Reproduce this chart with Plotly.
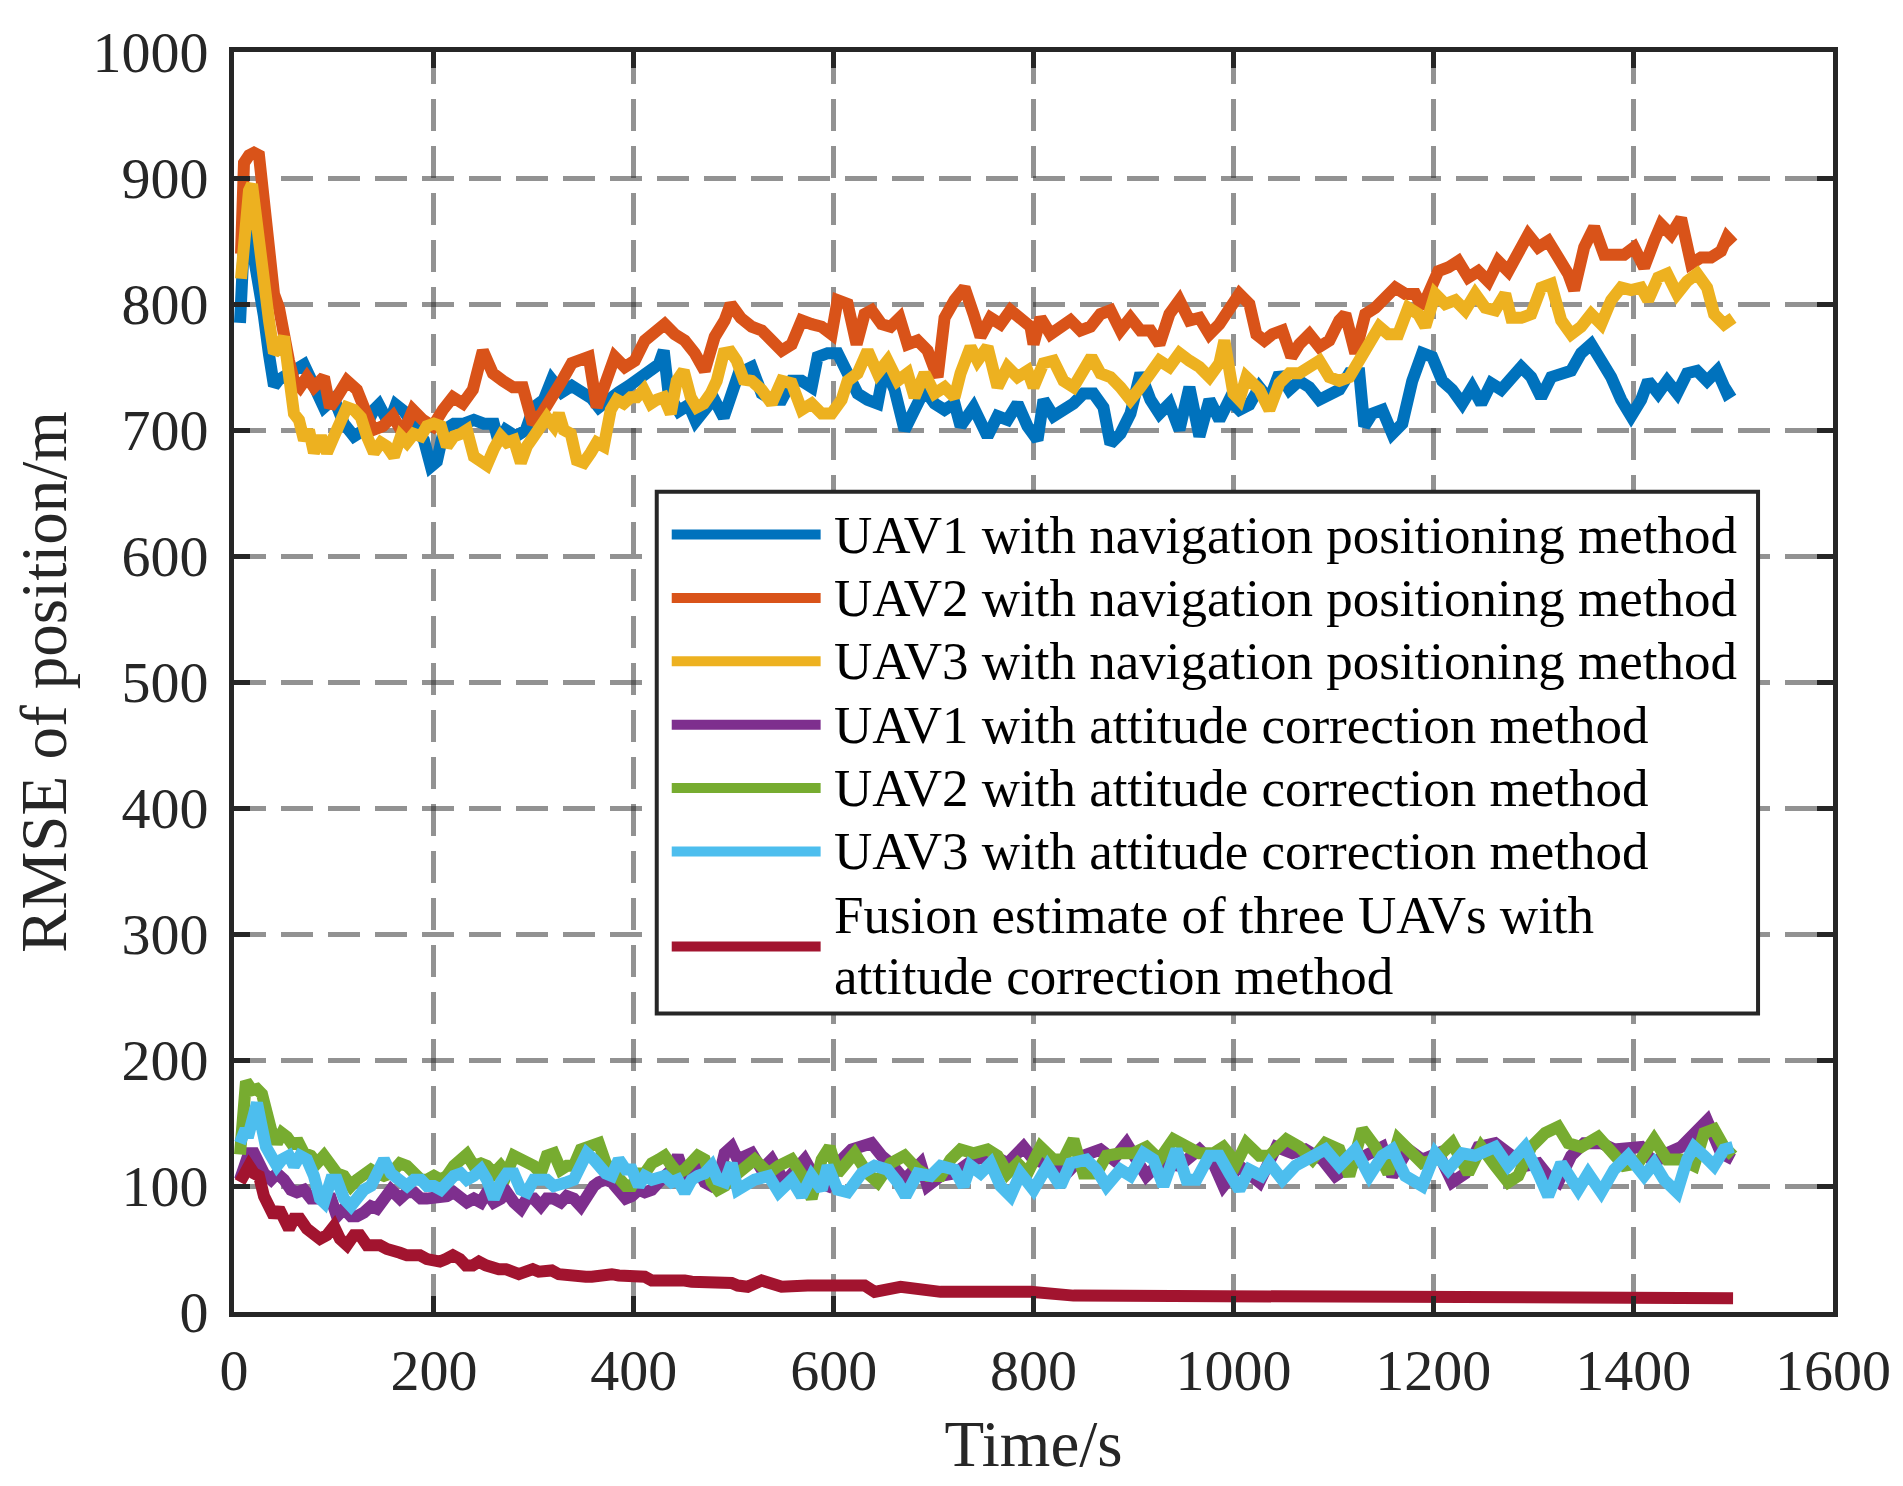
import plotly.graph_objects as go

# (time s, RMSE m)
uav1_nav = [(6, 785), (10, 850), (15, 860), (20, 840), (25, 815), (30, 790), (35, 760), (40, 735), (45, 740), (55, 745),
            (60, 748), (70, 752), (80, 735), (90, 718), (100, 725), (110, 705), (120, 695), (130, 700), (140, 716), (145, 720),
            (155, 705), (162, 720), (170, 715), (180, 705), (190, 692), (197, 671), (203, 675), (210, 700), (220, 705), (230, 705),
            (240, 708), (250, 705), (260, 705), (265, 690), (272, 700), (282, 695), (292, 700), (300, 718), (310, 724), (318, 740),
            (328, 730), (338, 735), (348, 730), (358, 725), (365, 718), (375, 725), (385, 730), (395, 735), (405, 740), (415, 745),
            (425, 752), (430, 763), (435, 728), (445, 715), (455, 720), (462, 707), (470, 715), (480, 725), (490, 710), (495, 720),
            (505, 745), (518, 750), (528, 729), (538, 724), (548, 724), (558, 739), (568, 739), (578, 734), (584, 758), (594, 761),
            (604, 761), (614, 745), (624, 729), (634, 724), (644, 721), (651, 750), (661, 732), (671, 700), (681, 716), (691, 732),
            (701, 721), (711, 716), (721, 721), (727, 703), (740, 718), (754, 695), (764, 711), (774, 708), (784, 721), (794, 703),
            (804, 692), (810, 724), (820, 711), (830, 716), (840, 721), (850, 729), (860, 729), (870, 718), (877, 689), (887, 697),
            (897, 713), (907, 745), (917, 724), (926, 713), (936, 721), (946, 700), (956, 734), (966, 695), (976, 724), (986, 708),
            (996, 724), (1006, 716), (1016, 720), (1026, 734), (1036, 724), (1046, 745), (1056, 732), (1066, 739), (1076, 734),
            (1086, 724), (1096, 729), (1106, 732), (1116, 745), (1126, 745), (1131, 703), (1139, 713), (1149, 716), (1159, 697),
            (1169, 705), (1179, 739), (1189, 761), (1199, 758), (1209, 739), (1219, 732), (1229, 721), (1239, 734), (1248, 721),
            (1258, 737), (1268, 732), (1278, 742), (1288, 750), (1298, 742), (1308, 726), (1318, 742), (1328, 745), (1338, 747),
            (1348, 761), (1358, 768), (1368, 755), (1378, 742), (1388, 724), (1398, 711), (1408, 724), (1415, 739), (1425, 729),
            (1434, 739), (1444, 729), (1454, 745), (1464, 747), (1474, 739), (1484, 747), (1494, 729), (1500, 732)]

uav2_nav = [(7, 840), (10, 912), (15, 918), (20, 920), (25, 918), (30, 876), (35, 850), (40, 808), (45, 797), (50, 771),
            (55, 755), (60, 739), (66, 734), (73, 742), (80, 734), (90, 742), (96, 718), (103, 726), (113, 739), (123, 732),
            (133, 713), (139, 700), (149, 703), (159, 711), (169, 697), (179, 716), (189, 708), (199, 703), (209, 716), (219, 726),
            (229, 721), (239, 732), (249, 763), (259, 745), (269, 739), (279, 734), (289, 734), (299, 705), (308, 713), (318, 724),
            (328, 739), (338, 753), (348, 755), (355, 758), (363, 718), (371, 739), (381, 758), (391, 750), (401, 755), (411, 771),
            (421, 779), (431, 784), (441, 776), (451, 771), (461, 761), (471, 747), (481, 774), (491, 787), (497, 800), (507, 789),
            (518, 782), (528, 779), (538, 771), (548, 763), (558, 768), (568, 787), (578, 784), (588, 782), (598, 776), (604, 803),
            (614, 800), (623, 768), (631, 792), (638, 795), (648, 784), (657, 782), (666, 789), (674, 768), (684, 771), (694, 763),
            (704, 742), (711, 789), (721, 803), (731, 813), (740, 792), (747, 774), (757, 789), (767, 784), (777, 795), (787, 787),
            (797, 782), (800, 768), (807, 789), (817, 776), (827, 782), (837, 787), (847, 779), (857, 782), (867, 792), (877, 795),
            (887, 779), (897, 789), (907, 779), (917, 779), (926, 768), (936, 792), (946, 803), (956, 787), (966, 789), (976, 776),
            (986, 784), (996, 795), (1006, 808), (1016, 800), (1023, 776), (1031, 771), (1039, 776), (1049, 779), (1058, 758),
            (1066, 768), (1076, 776), (1086, 766), (1096, 771), (1106, 787), (1112, 792), (1122, 761), (1132, 792), (1142, 797),
            (1152, 805), (1162, 813), (1172, 808), (1182, 808), (1189, 797), (1197, 813), (1205, 826), (1215, 829), (1225, 834),
            (1235, 821), (1245, 826), (1255, 818), (1265, 834), (1275, 826), (1285, 839), (1295, 855), (1305, 845), (1315, 850),
            (1325, 837), (1335, 824), (1341, 811), (1351, 845), (1361, 861), (1371, 839), (1381, 839), (1391, 839), (1401, 845),
            (1411, 829), (1421, 850), (1428, 863), (1438, 855), (1448, 868), (1458, 832), (1468, 837), (1478, 837), (1488, 842),
            (1494, 853), (1500, 848)]

uav3_nav = [(7, 820), (12, 870), (15, 890), (18, 895), (22, 866), (27, 845), (30, 818), (35, 787), (40, 761), (45, 765),
            (50, 774), (55, 739), (60, 713), (65, 708), (70, 692), (75, 700), (80, 682), (87, 695), (93, 682), (100, 695),
            (107, 708), (113, 718), (120, 716), (127, 710), (133, 695), (140, 682), (147, 690), (153, 687), (160, 679), (167, 695),
            (173, 690), (180, 697), (187, 695), (193, 703), (200, 705), (207, 703), (213, 687), (220, 695), (227, 697), (233, 700),
            (240, 679), (247, 674), (253, 672), (260, 685), (267, 695), (273, 690), (280, 692), (287, 674), (293, 687), (300, 695),
            (307, 705), (313, 710), (320, 703), (325, 713), (330, 700), (337, 697), (343, 676), (350, 674), (357, 682), (363, 690),
            (370, 687), (377, 716), (383, 724), (390, 721), (397, 726), (403, 726), (410, 732), (417, 721), (423, 724), (430, 726),
            (437, 713), (443, 739), (450, 747), (457, 726), (463, 718), (470, 721), (477, 729), (483, 739), (490, 761), (497, 762),
            (503, 755), (510, 740), (518, 739), (528, 732), (538, 721), (548, 739), (558, 737), (568, 716), (578, 721), (588, 713),
            (598, 713), (608, 724), (614, 739), (624, 745), (634, 763), (644, 745), (654, 755), (664, 739), (674, 745), (681, 726),
            (691, 745), (701, 729), (711, 734), (721, 726), (727, 745), (737, 766), (744, 755), (754, 766), (764, 734), (774, 750),
            (784, 742), (794, 747), (800, 734), (810, 753), (820, 755), (830, 739), (840, 734), (850, 747), (858, 758), (867, 745),
            (877, 742), (887, 734), (897, 724), (907, 734), (917, 745), (926, 755), (936, 750), (946, 761), (956, 755), (966, 750),
            (976, 742), (986, 753), (991, 771), (1000, 729), (1006, 724), (1013, 742), (1026, 732), (1036, 716), (1046, 737),
            (1056, 745), (1066, 745), (1076, 750), (1086, 755), (1096, 742), (1106, 739), (1116, 742), (1126, 755), (1136, 766),
            (1146, 782), (1155, 776), (1165, 776), (1175, 797), (1185, 792), (1192, 782), (1202, 808), (1212, 800), (1222, 803),
            (1232, 795), (1242, 808), (1252, 797), (1262, 795), (1272, 808), (1278, 789), (1288, 789), (1298, 792), (1308, 813),
            (1318, 816), (1328, 787), (1338, 776), (1348, 782), (1358, 792), (1368, 784), (1378, 803), (1388, 813), (1398, 811),
            (1408, 813), (1415, 803), (1425, 821), (1434, 824), (1444, 808), (1454, 818), (1464, 824), (1474, 813), (1481, 792),
            (1491, 784), (1500, 789)]

uav1_att = [(6, 105), (10, 116), (15, 126), (20, 126), (25, 116), (30, 110), (37, 105), (43, 110), (50, 105), (57, 97),
            (63, 95), (70, 97), (77, 90), (83, 90), (90, 92), (97, 90), (103, 76), (110, 82), (117, 76), (123, 76),
            (130, 79), (137, 84), (143, 82), (150, 90), (157, 97), (166, 90), (173, 95), (180, 95), (187, 90), (193, 90),
            (200, 90), (207, 92), (213, 92), (220, 95), (227, 90), (233, 87), (240, 90), (247, 87), (253, 95), (260, 87),
            (267, 90), (273, 95), (280, 87), (287, 82), (293, 90), (300, 90), (307, 84), (313, 90), (320, 90), (327, 87),
            (333, 92), (340, 90), (347, 84), (353, 92), (360, 100), (365, 103), (372, 105), (378, 103), (385, 97), (392, 90),
            (398, 92), (405, 97), (411, 95), (418, 97), (425, 103), (431, 108), (438, 113), (444, 124), (451, 108), (458, 110),
            (464, 113), (471, 103), (478, 100), (484, 103), (491, 126), (498, 131), (504, 121), (518, 126), (528, 113), (538, 121),
            (551, 103), (571, 121), (584, 103), (594, 100), (608, 121), (618, 129), (631, 131), (638, 134), (648, 124), (657, 118),
            (671, 105), (687, 118), (694, 100), (707, 108), (721, 110), (740, 121), (760, 124), (774, 118), (790, 131), (800, 121),
            (820, 116), (833, 110), (850, 124), (867, 129), (880, 121), (893, 134), (913, 108), (926, 118), (946, 116), (966, 129),
            (980, 118), (990, 100), (1006, 116), (1026, 103), (1043, 131), (1059, 126), (1072, 129), (1089, 121), (1102, 108),
            (1116, 116), (1132, 124), (1149, 131), (1159, 108), (1175, 129), (1189, 121), (1205, 126), (1219, 103), (1232, 110),
            (1245, 131), (1262, 134), (1275, 126), (1292, 116), (1305, 118), (1315, 108), (1325, 103), (1338, 124), (1351, 134),
            (1368, 134), (1381, 129), (1395, 129), (1408, 131), (1421, 118), (1434, 126), (1448, 131), (1461, 142), (1474, 152),
            (1488, 126), (1500, 121)]

uav2_att = [(6, 125), (10, 180), (12, 183), (18, 176), (23, 177), (28, 173), (32, 158), (37, 145), (43, 134), (48, 142),
            (53, 139), (60, 131), (63, 137), (70, 126), (77, 124), (83, 118), (90, 124), (97, 118), (103, 110), (110, 108),
            (117, 100), (123, 105), (130, 108), (137, 113), (143, 110), (150, 108), (157, 110), (166, 118), (173, 116), (180, 110),
            (187, 105), (193, 105), (200, 108), (207, 105), (213, 108), (220, 116), (227, 121), (233, 125), (240, 116), (247, 118),
            (253, 116), (260, 110), (267, 116), (273, 110), (280, 124), (287, 121), (293, 121), (300, 116), (307, 110), (313, 124),
            (320, 126), (327, 113), (333, 116), (340, 116), (347, 129), (353, 131), (360, 134), (365, 134), (372, 118), (378, 113),
            (385, 105), (392, 100), (398, 100), (405, 110), (411, 110), (418, 118), (425, 121), (431, 124), (438, 116), (444, 110),
            (451, 113), (458, 118), (464, 124), (471, 121), (478, 103), (484, 97), (491, 100), (498, 113), (504, 110), (521, 121),
            (535, 110), (545, 116), (558, 121), (569, 108), (578, 90), (588, 121), (596, 131), (604, 110), (621, 126), (634, 110),
            (644, 103), (657, 118), (671, 124), (684, 113), (694, 108), (707, 108), (717, 121), (727, 129), (740, 126), (754, 129),
            (764, 124), (774, 110), (784, 118), (794, 110), (807, 131), (820, 121), (830, 121), (840, 137), (850, 110), (863, 110),
            (873, 124), (887, 126), (900, 126), (913, 131), (926, 121), (940, 137), (953, 131), (966, 126), (980, 126), (990, 131),
            (1003, 118), (1013, 134), (1026, 124), (1036, 124), (1053, 137), (1066, 131), (1079, 121), (1092, 134), (1106, 129),
            (1116, 108), (1129, 145), (1142, 131), (1155, 110), (1165, 137), (1179, 126), (1189, 118), (1202, 121), (1219, 134),
            (1235, 110), (1248, 131), (1262, 116), (1275, 103), (1285, 108), (1298, 131), (1312, 142), (1325, 147), (1335, 134),
            (1348, 131), (1365, 139), (1378, 126), (1391, 116), (1405, 118), (1421, 137), (1434, 121), (1448, 121), (1461, 116),
            (1471, 142), (1481, 145), (1491, 131), (1500, 124)]

uav3_att = [(6, 134), (10, 142), (15, 142), (20, 158), (23, 166), (27, 150), (32, 131), (37, 124), (43, 116), (48, 121),
            (55, 124), (60, 116), (66, 124), (73, 121), (80, 108), (86, 90), (90, 87), (97, 105), (103, 105), (110, 90),
            (117, 84), (123, 90), (130, 97), (137, 100), (143, 110), (150, 121), (157, 110), (166, 103), (173, 100), (180, 105),
            (187, 105), (193, 100), (200, 100), (207, 97), (213, 103), (220, 108), (227, 110), (233, 105), (240, 108), (247, 113),
            (253, 105), (260, 90), (267, 103), (273, 110), (280, 110), (287, 97), (293, 95), (300, 105), (307, 105), (313, 105),
            (320, 100), (327, 103), (333, 103), (340, 105), (347, 118), (353, 126), (360, 121), (365, 116), (372, 110), (378, 108),
            (385, 121), (392, 113), (398, 113), (405, 100), (411, 108), (418, 105), (425, 108), (431, 108), (438, 103), (444, 105),
            (451, 95), (458, 105), (464, 108), (471, 110), (478, 116), (484, 105), (491, 103), (498, 118), (504, 97), (521, 105),
            (535, 108), (545, 95), (558, 105), (568, 92), (578, 108), (588, 97), (594, 116), (604, 97), (614, 95), (628, 110),
            (641, 116), (654, 113), (664, 103), (672, 92), (684, 110), (697, 108), (707, 116), (721, 113), (730, 100), (737, 116),
            (747, 110), (757, 118), (767, 100), (777, 92), (787, 110), (800, 97), (814, 116), (827, 100), (837, 118), (853, 121),
            (863, 113), (873, 100), (887, 113), (897, 108), (910, 126), (920, 121), (930, 100), (943, 129), (953, 105), (963, 105),
            (976, 124), (986, 124), (996, 110), (1006, 97), (1016, 113), (1028, 108), (1036, 118), (1049, 105), (1062, 116),
            (1076, 121), (1092, 129), (1106, 116), (1122, 129), (1136, 108), (1149, 124), (1159, 129), (1172, 108), (1189, 100),
            (1202, 126), (1215, 113), (1229, 126), (1242, 124), (1262, 131), (1275, 116), (1292, 131), (1305, 110), (1315, 92),
            (1328, 118), (1345, 97), (1355, 110), (1368, 95), (1381, 113), (1395, 124), (1411, 108), (1421, 118), (1431, 105),
            (1444, 95), (1454, 121), (1461, 131), (1471, 124), (1481, 116), (1491, 129), (1500, 131)]

fusion_att = [(6, 103), (10, 108), (15, 116), (20, 110), (25, 108), (30, 92), (35, 84), (40, 76), (45, 82), (50, 74),
              (55, 66), (60, 74), (66, 74), (73, 66), (80, 61), (86, 58), (93, 61), (100, 68), (106, 58), (113, 53),
              (120, 61), (126, 61), (133, 53), (139, 53), (146, 53), (153, 50), (160, 47), (166, 47), (173, 45), (179, 45),
              (186, 45), (193, 42), (199, 40), (206, 40), (212, 42), (219, 45), (226, 42), (232, 37), (239, 37), (245, 40),
              (252, 37), (259, 34), (265, 34), (272, 34), (279, 33), (285, 30), (292, 32), (299, 34), (305, 32), (312, 33),
              (318, 33), (325, 30), (332, 29), (338, 29), (345, 28), (352, 28), (358, 28), (365, 29), (371, 30), (378, 30),
              (385, 29), (391, 29), (398, 27), (405, 27), (411, 28), (418, 25), (424, 25), (431, 27), (438, 27), (444, 25),
              (451, 25), (458, 24), (464, 24), (471, 23), (478, 23), (484, 24), (491, 25), (498, 23), (504, 21), (514, 20),
              (528, 25), (548, 20), (574, 21), (608, 20), (631, 21), (641, 16), (667, 20), (707, 16), (740, 16), (774, 14),
              (797, 16), (840, 13), (873, 13), (907, 13), (953, 11), (990, 13), (1023, 12), (1060, 11), (1100, 12), (1150, 11),
              (1200, 12), (1250, 11), (1300, 12), (1350, 11), (1400, 11), (1450, 12), (1500, 11)]

series = [
    (["UAV1 with navigation positioning method"], uav1_nav, "#0072BD"),
    (["UAV2 with navigation positioning method"], uav2_nav, "#D95319"),
    (["UAV3 with navigation positioning method"], uav3_nav, "#EDB120"),
    (["UAV1 with attitude correction method"], uav1_att, "#7E2F8E"),
    (["UAV2 with attitude correction method"], uav2_att, "#77AC30"),
    (["UAV3 with attitude correction method"], uav3_att, "#4DBEEE"),
    (["Fusion estimate of three UAVs with", "attitude correction method"], fusion_att, "#A2142F"),
]

# legend box drawn inside the axes, MATLAB style (data units)
leg_x0, leg_x1, leg_ytop, leg_ybot = 423, 1525, 651, 237
leg_line_x0, leg_line_x1, leg_text_x = 438, 587, 598
row_h = 50.3
first_row = 617

fig = go.Figure()
shapes = [dict(type="rect", xref="x", yref="y", x0=leg_x0, x1=leg_x1, y0=leg_ybot, y1=leg_ytop,
               fillcolor="white", line=dict(color="#262626", width=4), layer="above")]
annotations = []
for i, (names, pts, color) in enumerate(series):
    t, v = zip(*pts)
    fig.add_trace(go.Scatter(x=t, y=v, mode="lines", name=" ".join(names), showlegend=False,
                             line=dict(color=color, width=12)))
    yc = first_row - i * row_h - (row_h / 2 if len(names) > 1 else 0)
    shapes.append(dict(type="line", xref="x", yref="y", x0=leg_line_x0, x1=leg_line_x1, y0=yc, y1=yc,
                       line=dict(color=color, width=10), layer="above"))
    for k, nm in enumerate(names):
        ty = first_row - i * row_h - k * 48.5
        annotations.append(dict(xref="x", yref="y", x=leg_text_x, y=ty, text=nm, showarrow=False,
                                xanchor="left", yanchor="middle",
                                font=dict(size=53, color="black", family="Liberation Serif")))

axis_common = dict(showline=True, mirror="ticks", linecolor="#262626", linewidth=5,
                   ticks="inside", ticklen=16, tickwidth=5, tickcolor="#262626",
                   showgrid=True, gridcolor="rgba(38,38,38,0.5)", gridwidth=5, griddash="32px,15px",
                   zeroline=False, ticklabeloverflow="allow", tickfont=dict(size=58, color="#262626"))

fig.update_xaxes(range=[0, 1600], dtick=200, tick0=0, ticklabelstandoff=3,
                 title=dict(text="Time/s", font=dict(size=65, color="#262626"), standoff=20),
                 **axis_common)
fig.update_yaxes(range=[0, 1000], dtick=100, tick0=0, ticklabelstandoff=9,
                 title=dict(text="RMSE of position/m", font=dict(size=65, color="#262626"), standoff=18),
                 **axis_common)

fig.update_layout(width=1903, height=1486, autosize=False,
                  margin=dict(l=226, r=78, t=31, b=182, pad=0),
                  paper_bgcolor="white", plot_bgcolor="white",
                  font=dict(family="Liberation Serif", color="#262626"),
                  shapes=shapes, annotations=annotations, showlegend=False)

fig.write_html("out.html")
